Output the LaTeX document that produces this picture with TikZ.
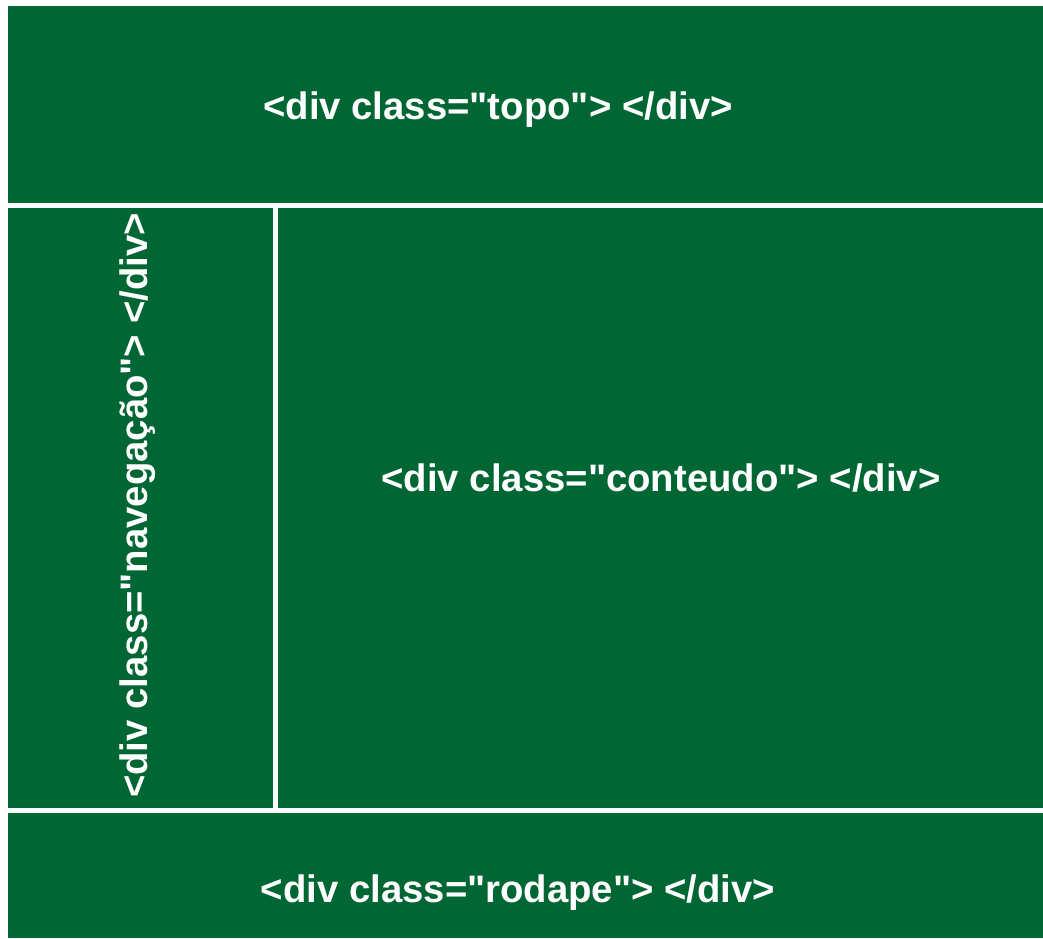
\documentclass[tikz,border=0pt]{standalone}
\usepackage{fontspec}
\setmainfont{Liberation Sans}[Ligatures=TeXOff]
\usepackage{tikz}

\definecolor{verde}{HTML}{006633}
\newcommand{\aspas}{\symbol{34}}

\begin{document}
\begin{tikzpicture}[x=1pt,y=-1pt]
    \tikzstyle{rotulo}=[text=white,font=\fontsize{38.3}{40}\selectfont\bfseries,inner sep=0pt,anchor=base]
    \tikzstyle{divisa}=[draw=white,line width=5pt]
    \useasboundingbox (0,0) rectangle (1043,938);
    \fill[verde] (8,6) rectangle (1043,938);
    % linhas brancas
    \coordinate (h1a) at (8,205.5);
    \coordinate (h1b) at (1043,205.5);
    \coordinate (h2a) at (8,810.5);
    \coordinate (h2b) at (1043,810.5);
    \coordinate (v1a) at (275.5,205.5);
    \coordinate (v1b) at (275.5,810.5);
    \draw[divisa] (h1a) -- (h1b);
    \draw[divisa] (h2a) -- (h2b);
    \draw[divisa] (v1a) -- (v1b);
    % textos
    \node[rotulo] (topo) at (498,119) {<div class=\aspas topo\aspas> </div>};
    \node[rotulo] (conteudo) at (661,491) {<div class=\aspas conteudo\aspas> </div>};
    \node[rotulo] (rodape) at (518,902) {<div class=\aspas rodape\aspas> </div>};
    \node[rotulo,rotate=90] (navegacao) at (147,505.5) {<div class=\aspas navegação\aspas> </div>};
\end{tikzpicture}
\end{document}
